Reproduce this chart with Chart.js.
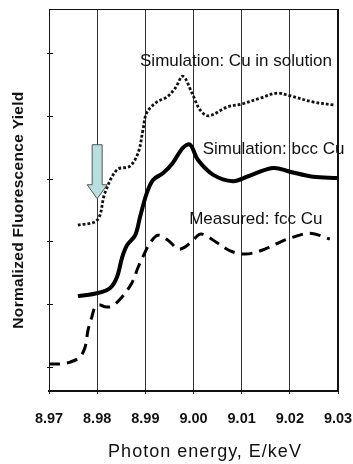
<!DOCTYPE html>
<html>
<head>
<meta charset="utf-8">
<script src="https://cdn.jsdelivr.net/npm/chart.js@4/dist/chart.umd.min.js"></script>
<style>
  html, body { margin: 0; padding: 0; background: #fff; }
  #wrap { width: 353px; height: 464px; }
</style>
</head>
<body>
<div id="wrap"><canvas id="c" width="353" height="464"></canvas></div>
<script>
// Photon energy axis (keV)
const xTicks = [8.97, 8.98, 8.99, 9.00, 9.01, 9.02, 9.03];
const yTicks = [0, 1, 2, 3, 4, 5];

// Simulation: Cu in solution (dotted)
const solE = [8.9760, 8.9800, 8.9816, 8.9841, 8.9868, 8.9885, 8.9895, 8.9903, 8.9924, 8.9945, 8.9962, 8.9978,
              8.9997, 9.0014, 9.0032, 9.0070, 9.0101, 9.0138, 9.0173, 9.0200, 9.0248, 9.0294];
const solY = [2.26, 2.34, 2.77, 3.14, 3.20, 3.41, 3.77, 4.05, 4.22, 4.30, 4.44, 4.63,
              4.36, 4.09, 4.00, 4.14, 4.19, 4.28, 4.36, 4.32, 4.22, 4.17];

// Simulation: bcc Cu (solid)
const bccE = [8.9760, 8.9802, 8.9827, 8.9841, 8.9852, 8.9862, 8.9879, 8.9889, 8.9903, 8.9916, 8.9937, 8.9957,
              8.9978, 8.9993, 9.0009, 9.0041, 9.0082, 9.0111, 9.0165, 9.0200, 9.0248, 9.0298];
const bccY = [1.13, 1.18, 1.26, 1.43, 1.75, 1.94, 2.10, 2.39, 2.77, 2.98, 3.09, 3.25,
              3.49, 3.54, 3.30, 3.06, 2.96, 3.03, 3.17, 3.11, 3.03, 3.01];

// Measured: fcc Cu (dashed)
const fccE = [8.9700, 8.9723, 8.9744, 8.9764, 8.9775, 8.9781, 8.9789, 8.9796, 8.9806, 8.9816, 8.9831, 8.9852,
              8.9872, 8.9885, 8.9899, 8.9910, 8.9926, 8.9947, 8.9968, 8.9982, 8.9999, 9.0016, 9.0049,
              9.0076, 9.0107, 9.0142, 9.0180, 9.0207, 9.0242, 9.0283];
const fccY = [0.05, 0.05, 0.08, 0.16, 0.32, 0.59, 0.80, 0.96, 0.99, 0.96, 0.97, 1.12,
              1.34, 1.59, 1.82, 1.98, 2.10, 2.02, 1.88, 1.91, 2.02, 2.12, 1.98,
              1.85, 1.80, 1.86, 1.99, 2.07, 2.13, 2.04];

// Edge marker arrow (energy, top value, tip value)
const arrowE = 8.98;
const arrowTop = 3.54;
const arrowTip = 2.68;

// Curve captions: text, left energy, centre value
const captions = [
  { text: 'Simulation: Cu in solution', e: 8.9889, v: 4.86 },
  { text: 'Simulation: bcc Cu',         e: 9.0019, v: 3.47 },
  { text: 'Measured: fcc Cu',           e: 8.9991, v: 2.36 }
];

const toPts = (xs, ys) => xs.map((x, i) => ({ x, y: ys[i] }));

const overlay = {
  id: 'overlay',
  beforeDatasetsDraw(chart) {
    const { ctx, scales: { x, y } } = chart;
    // edge arrow
    const cx = x.getPixelForValue(arrowE);
    const yt = y.getPixelForValue(arrowTop);
    const yp = y.getPixelForValue(arrowTip);
    const ys = yp - 14;
    ctx.save();
    ctx.beginPath();
    ctx.moveTo(cx - 5, yt);
    ctx.lineTo(cx + 5, yt);
    ctx.lineTo(cx + 5, ys);
    ctx.lineTo(cx + 10, ys);
    ctx.lineTo(cx, yp);
    ctx.lineTo(cx - 10, ys);
    ctx.lineTo(cx - 5, ys);
    ctx.closePath();
    ctx.fillStyle = '#b8dfe0';
    ctx.fill();
    ctx.strokeStyle = '#555';
    ctx.lineWidth = 1;
    ctx.stroke();
    ctx.restore();
  },
  afterDraw(chart) {
    const { ctx, chartArea: a, scales: { x, y } } = chart;
    ctx.save();
    // frame
    ctx.strokeStyle = '#111';
    ctx.lineWidth = 1;
    ctx.beginPath();
    ctx.moveTo(a.left, a.top + 0.5); ctx.lineTo(a.right, a.top + 0.5);
    ctx.stroke();
    ctx.lineWidth = 2;
    ctx.beginPath();
    ctx.moveTo(a.right, a.top); ctx.lineTo(a.right, a.bottom);
    ctx.stroke();
    // inward y ticks
    ctx.lineWidth = 1;
    yTicks.forEach(v => {
      const py = Math.round(y.getPixelForValue(v)) + 0.5;
      ctx.beginPath();
      ctx.moveTo(a.left - 2, py); ctx.lineTo(a.left + 4, py);
      ctx.stroke();
    });
    // captions
    ctx.fillStyle = '#111';
    ctx.font = '17px "Liberation Sans", Arial, sans-serif';
    ctx.textBaseline = 'middle';
    ctx.textAlign = 'left';
    captions.forEach(c => {
      ctx.fillText(c.text, x.getPixelForValue(c.e), y.getPixelForValue(c.v));
    });
    // axis titles
    ctx.font = '18px "Liberation Sans", Arial, sans-serif';
    ctx.letterSpacing = '1px';
    ctx.textAlign = 'center';
    ctx.fillText('Photon energy, E/keV', 205, 452);
    ctx.letterSpacing = '0.3px';
    ctx.translate(19, 210);
    ctx.rotate(-Math.PI / 2);
    ctx.font = 'bold 15.5px "Liberation Sans", Arial, sans-serif';
    ctx.fillText('Normalized Fluorescence Yield', 0, 0);
    ctx.restore();
  }
};

new Chart(document.getElementById('c'), {
  type: 'line',
  data: {
    datasets: [
      { label: 'Simulation: Cu in solution', data: toPts(solE, solY), borderColor: '#111',
        borderWidth: 2.8, borderDash: [2.8, 2.0], tension: 0.35, pointRadius: 0 },
      { label: 'Simulation: bcc Cu', data: toPts(bccE, bccY), borderColor: '#000',
        borderWidth: 4, tension: 0.35, pointRadius: 0 },
      { label: 'Measured: fcc Cu', data: toPts(fccE, fccY), borderColor: '#000',
        borderWidth: 3, borderDash: [11, 7], tension: 0.35, pointRadius: 0 }
    ]
  },
  options: {
    responsive: false,
    animation: false,
    layout: { padding: { top: 9, right: 15, left: 0, bottom: 0 } },
    plugins: { legend: { display: false }, tooltip: { enabled: false } },
    scales: {
      x: {
        type: 'linear', min: 8.97, max: 9.03,
        afterBuildTicks: s => { s.ticks = xTicks.map(v => ({ value: v })); },
        afterFit: s => { s.height = 73; s.paddingRight = 0; s.paddingLeft = 0; },
        ticks: {
          color: '#111', padding: 16, maxRotation: 0,
          font: { family: '"Liberation Sans", Arial, sans-serif', size: 14.5, weight: 'bold' },
          callback: v => Number(v).toFixed(2)
        },
        grid: { color: '#333', lineWidth: 1, tickLength: 3, drawTicks: true },
        border: { color: '#111', width: 2 }
      },
      y: {
        type: 'linear', min: -0.38, max: 5.7,
        afterFit: s => { s.width = 49; },
        ticks: { display: false },
        grid: { display: false },
        border: { color: '#111', width: 1 }
      }
    }
  },
  plugins: [overlay]
});
</script>
</body>
</html>
